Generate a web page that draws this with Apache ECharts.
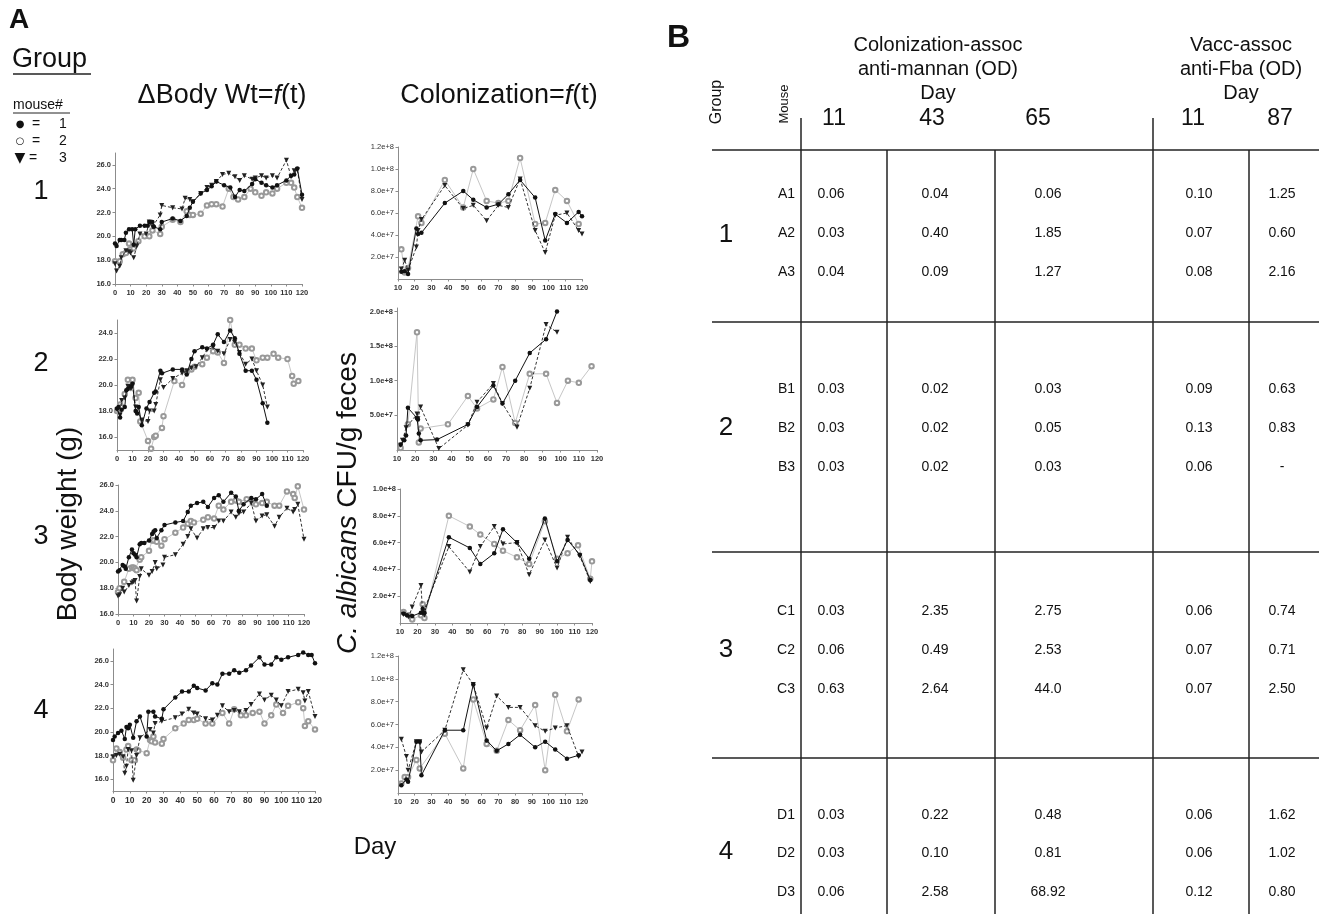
<!DOCTYPE html>
<html>
<head>
<meta charset="utf-8">
<title>Body weight and colonization</title>
<script src="https://cdn.jsdelivr.net/npm/echarts@6/dist/echarts.min.js"></script>
<style>
  html, body { margin: 0; padding: 0; background: #fff; }
  #main { width: 1319px; height: 914px; }
</style>
</head>
<body>
<div id="main"></div>
<script>
// body weight (g) per group, mouse 1..3, as [day, grams]
var bwG1M1 = [[0,19.4],[1,19.2],[3,19.7],[4,19.7],[6,19.7],[7,20.3],[9,20.6],[11,20.6],[12,19.3],[13,20.6],[16,20.9],[19,20.9],[21,20.9],[22,21.2],[24,21.2],[25,20.8],[29,20.6],[30,21.2],[37,21.5],[42,21.3],[46,21.7],[48,22.4],[50,22.9],[55,23.6],[59,23.9],[62,24.2],[65,24.6],[70,24.3],[74,24.1],[77,23.3],[80,23.9],[83,23.8],[88,24.4],[90,24.8],[94,24.5],[97,24.3],[101,24.1],[104,24.3],[110,24.7],[113,25.1],[115,25.2],[117,25.7],[120,23.5]]
var bwG1M2 = [[0,17.9],[3,17.9],[5,18.5],[7,18.6],[9,19.4],[10,18.9],[12,19.0],[13,19.3],[15,19.6],[19,20.0],[22,20.0],[24,20.5],[29,20.2],[30,20.8],[37,21.4],[42,21.2],[46,22.1],[48,21.8],[50,21.8],[55,21.9],[59,22.6],[62,22.7],[65,22.7],[69,22.5],[73,24.0],[76,23.3],[79,23.1],[83,23.3],[87,24.0],[90,23.7],[94,23.4],[97,23.7],[101,23.6],[104,24.0],[110,24.5],[113,24.5],[115,24.1],[117,23.3],[120,22.4]]
var bwG1M3 = [[0,17.7],[1,17.1],[3,17.5],[4,18.2],[7,18.8],[9,18.7],[10,18.6],[12,18.2],[14,19.2],[16,20.2],[20,20.2],[22,21.2],[24,20.8],[29,21.8],[30,22.6],[37,22.4],[43,22.3],[45,23.2],[48,23.1],[50,22.9],[55,23.6],[59,24.1],[62,24.3],[65,24.6],[69,25.2],[73,25.3],[77,25.0],[80,24.7],[83,25.1],[88,24.8],[90,24.9],[94,25.1],[97,24.9],[101,25.1],[104,24.9],[110,26.4],[113,25.0],[115,25.5],[117,25.6],[120,23.1]]

var bwG2M1 = [[0,18.2],[1,18.3],[2,17.5],[3,18.1],[5,18.3],[6,19.6],[7,19.7],[9,19.9],[10,20.1],[12,18.0],[13,17.8],[14,18.3],[16,16.9],[19,18.2],[21,18.7],[24,19.4],[25,19.5],[28,21.1],[29,20.9],[36,21.2],[42,21.2],[45,20.8],[48,22.0],[50,22.6],[55,22.9],[58,22.8],[62,23.1],[65,23.9],[69,23.3],[73,24.2],[76,23.6],[79,22.4],[83,21.1],[87,21.1],[90,20.4],[94,18.6],[97,17.1]]
var bwG2M2 = [[0,18.0],[2,18.5],[3,18.3],[5,19.3],[7,20.4],[10,20.4],[12,19.0],[14,19.4],[15,17.2],[20,15.7],[22,15.1],[24,16.0],[25,16.1],[29,16.7],[30,17.6],[37,20.3],[42,20.0],[45,21.0],[48,21.2],[50,21.4],[55,21.6],[58,22.1],[62,22.6],[65,22.5],[69,21.7],[73,25.0],[76,23.1],[79,23.1],[83,22.8],[87,22.8],[90,21.9],[94,22.1],[97,22.1],[101,22.4],[104,22.1],[110,22.0],[113,20.7],[114,20.1],[117,20.3]]
var bwG2M3 = [[0,18.1],[2,17.7],[3,18.8],[5,19.0],[7,19.9],[9,19.7],[10,20.0],[12,18.3],[16,17.3],[20,17.2],[21,18.0],[24,18.0],[25,18.5],[28,20.4],[30,19.8],[36,20.5],[42,20.9],[45,21.1],[48,21.3],[51,21.4],[55,22.1],[58,22.7],[62,22.9],[65,22.6],[69,22.4],[73,23.5],[76,23.3],[79,22.5],[83,21.6],[87,22.0],[90,21.1],[94,20.0],[97,18.3]]

var bwG3M1 = [[0,19.3],[1,19.4],[3,19.8],[4,19.7],[5,19.5],[7,20.4],[9,21.0],[10,20.7],[11,20.6],[12,20.4],[14,21.4],[15,21.5],[17,21.5],[20,21.7],[22,22.2],[23,22.4],[24,22.5],[25,21.9],[28,22.5],[30,22.9],[37,23.1],[42,23.2],[45,23.9],[47,24.4],[51,24.6],[55,24.7],[58,24.3],[62,25.0],[65,25.2],[68,24.7],[73,25.4],[76,25.1],[78,24.0],[81,24.5],[86,25.0],[89,24.9],[93,25.3],[96,24.4]]
var bwG3M2 = [[0,17.7],[1,18.0],[4,18.5],[7,19.5],[9,19.6],[10,19.6],[11,19.5],[12,19.4],[14,20.2],[15,20.4],[20,20.9],[22,21.7],[23,21.7],[25,21.6],[28,21.3],[30,21.8],[37,22.3],[42,22.7],[45,23.0],[47,23.2],[49,23.1],[55,23.3],[58,23.5],[62,23.4],[65,24.4],[68,24.1],[73,24.7],[76,24.8],[78,24.7],[83,24.9],[87,24.6],[89,24.5],[93,24.6],[96,24.7],[101,24.4],[104,24.4],[109,25.5],[113,25.3],[114,25.0],[116,25.9],[120,24.1]]
var bwG3M3 = [[0,17.4],[1,17.5],[3,18.0],[4,17.7],[7,18.2],[9,18.4],[10,18.5],[11,18.6],[12,17.0],[14,18.9],[15,19.5],[20,19.0],[22,19.3],[24,20.0],[25,19.5],[29,19.8],[30,20.4],[37,20.6],[42,21.4],[45,22.0],[47,22.6],[51,21.9],[55,22.6],[58,22.7],[62,22.7],[65,23.2],[68,23.2],[73,23.9],[76,23.5],[78,23.8],[81,23.9],[86,24.6],[89,23.2],[93,23.6],[96,23.7],[101,22.8],[104,23.5],[109,24.2],[113,23.9],[114,24.1],[116,24.5],[120,21.8]]

var bwG4M1 = [[0,19.3],[1,19.6],[3,19.9],[5,20.1],[7,19.4],[8,20.4],[9,20.3],[10,20.6],[12,19.5],[14,20.9],[16,21.3],[20,19.6],[21,21.7],[24,21.7],[25,21.3],[29,21.1],[30,21.9],[37,22.9],[41,23.4],[45,23.4],[48,23.9],[50,23.7],[55,23.5],[59,24.1],[62,24.0],[65,24.9],[69,24.9],[72,25.2],[75,25.0],[79,25.2],[82,25.6],[87,26.3],[90,25.7],[94,25.7],[97,26.3],[100,26.1],[104,26.3],[110,26.5],[113,26.7],[116,26.5],[118,26.5],[120,25.8]]
var bwG4M2 = [[0,17.6],[2,18.6],[4,18.3],[6,17.8],[8,18.5],[9,18.8],[11,17.6],[13,17.6],[14,18.5],[15,18.4],[20,18.2],[22,19.3],[23,19.2],[24,19.6],[25,19.1],[29,19.0],[30,19.4],[37,20.3],[42,20.7],[45,21.0],[48,21.0],[50,21.1],[55,20.7],[59,20.7],[65,21.6],[69,20.7],[72,21.9],[76,21.4],[79,21.4],[83,21.6],[87,21.7],[90,20.7],[94,21.4],[97,22.3],[101,21.6],[104,22.2],[110,22.5],[113,22.0],[114,20.5],[116,20.9],[120,20.2]]
var bwG4M3 = [[0,17.9],[2,18.0],[4,18.1],[6,17.9],[7,16.5],[8,17.1],[9,18.5],[11,18.4],[12,15.9],[14,18.0],[16,19.5],[22,20.2],[24,19.9],[25,20.7],[29,20.9],[37,21.2],[41,21.5],[45,21.9],[48,21.6],[50,21.5],[55,21.1],[59,21.0],[62,21.4],[65,22.2],[69,21.7],[72,21.8],[75,21.7],[79,21.8],[82,22.3],[87,23.2],[90,22.7],[94,23.1],[97,22.7],[100,22.2],[104,23.4],[110,23.6],[113,23.3],[114,22.6],[116,23.4],[120,21.3]]

// C. albicans CFU/g feces, in millions, as [day, value]
var cfuG1M1 = [[12,6.7],[14,7],[16,4.6],[21,46],[22,41],[24,42],[38,69],[49,80],[55,72],[63,65],[70,68],[76,77],[83,90],[92,74],[98,35],[104,59],[111,51],[118,61],[120,57]]
var cfuG1M2 = [[12,27],[14,6],[16,10],[22,57],[24,51],[38,90],[49,65],[55,100],[63,71],[70,69],[76,71],[83,110],[92,50],[98,51],[104,81],[111,71],[118,50]]
var cfuG1M3 = [[12,9],[14,17],[16,8],[21,29],[22,44],[24,54],[38,85],[49,64],[55,67],[63,53],[70,67],[76,65],[83,91],[92,44],[98,24],[104,58],[111,60],[118,44],[120,41]]

var cfuG2M1 = [[12,8],[14,14],[15,21],[16,61],[21,46],[21.5,44],[22,24],[23,14],[32,15],[49,37],[54,62],[63,93],[68,67],[75,100],[83,140],[92,160],[98,200]]
var cfuG2M2 = [[12,3],[16,37],[21,170],[22,11],[23,31],[38,37],[49,78],[54,60],[63,73],[68,120],[75,39],[83,110],[92,110],[98,68],[104,100],[110,97],[117,121]]
var cfuG2M3 = [[12,7],[13,14],[15,32],[21,52],[21.5,45],[23,62],[33,2],[49,36],[54,69],[63,96],[68,67],[76,33],[83,89],[92,181],[98,170]]

var cfuG3M1 = [[12,7],[14,5.7],[17,5.2],[22,7.7],[23,10.6],[24,7.7],[38,64],[50,56],[56,44],[64,52],[69,70],[77,60],[84,48],[93,78],[100,46],[106,62],[113,51],[119,32]]
var cfuG3M2 = [[12,8.2],[15,5.7],[17,2.7],[22,5.7],[23,14],[24,3.7],[38,80],[50,72],[56,66],[64,59],[69,54],[77,49],[84,44],[93,76],[100,48],[106,52],[112,58],[119,33],[120,46]]
var cfuG3M3 = [[12,6.4],[15,4.4],[17,12],[22,28],[23,7],[24,5.7],[38,57],[50,38],[56,57],[64,72],[69,59],[77,60],[84,36],[93,62],[100,41],[106,64],[113,50],[119,31]]

var cfuG4M1 = [[12,6.8],[15,11.8],[16,9.8],[21,45],[23,45],[24,15.6],[38,55],[49,55],[55,95],[63,46],[69,37],[76,43],[83,51],[92,40],[98,45],[104,38],[111,30],[118,33]]
var cfuG4M2 = [[12,8.3],[14,14],[16,14],[21,29],[23,21.5],[38,52],[49,21.5],[55,82],[63,43],[69,37],[76,64],[83,55],[92,77],[98,20],[104,86],[111,54],[118,82]]
var cfuG4M3 = [[12,47],[15,32],[16,20],[21,45],[23,45],[24,36],[38,55],[49,108],[55,95],[63,57],[69,85],[76,75],[83,75],[92,59],[98,54],[104,57],[111,59],[118,32],[120,36]]

// tick labels
var bwTicks = [16, 18, 20, 22, 24, 26]
var cfuTicks120 = [20, 40, 60, 80, 100, 120]
var cfuTicks200 = [50, 100, 150, 200]
var cfuTicks100 = [20, 40, 60, 80, 100]

// table B
var groupNames = ['1', '2', '3', '4']
var mouseIds = ['A1','A2','A3','B1','B2','B3','C1','C2','C3','D1','D2','D3']
var colDays = ['11', '43', '65', '11', '87']
var mannanD11 = ['0.06','0.03','0.04','0.03','0.03','0.03','0.03','0.06','0.63','0.03','0.03','0.06']
var mannanD43 = ['0.04','0.40','0.09','0.02','0.02','0.02','2.35','0.49','2.64','0.22','0.10','2.58']
var mannanD65 = ['0.06','1.85','1.27','0.03','0.05','0.03','2.75','2.53','44.0','0.48','0.81','68.92']
var fbaD11 = ['0.10','0.07','0.08','0.09','0.13','0.06','0.06','0.07','0.07','0.06','0.06','0.12']
var fbaD87 = ['1.25','0.60','2.16','0.63','0.83','-','0.74','0.71','2.50','1.62','1.02','0.80']

var FONT = '"Liberation Sans", Arial, "DejaVu Sans", sans-serif'
var myChart = echarts.init(document.getElementById('main'))

var panels = [
  { grid: { left: 115, top: 153, width: 187, height: 131 }, xMin: 0, yMin: 16, yMax: 27, ticks: bwTicks, bw: true, bold: true, data: [bwG1M1, bwG1M2, bwG1M3] },
  { grid: { left: 117, top: 320, width: 186, height: 130 }, xMin: 0, yMin: 15, yMax: 25, ticks: bwTicks, bw: true, bold: true, data: [bwG2M1, bwG2M2, bwG2M3] },
  { grid: { left: 118, top: 485, width: 186, height: 129 }, xMin: 0, yMin: 16, yMax: 26, ticks: bwTicks, bw: true, bold: true, data: [bwG3M1, bwG3M2, bwG3M3] },
  { grid: { left: 113, top: 649, width: 202, height: 142 }, xMin: 0, yMin: 15, yMax: 27, ticks: bwTicks, bw: true, bold: true, data: [bwG4M1, bwG4M2, bwG4M3] },
  { grid: { left: 398, top: 147, width: 184, height: 132 }, xMin: 10, yMin: 0, yMax: 120, ticks: cfuTicks120, bold: false, data: [cfuG1M1, cfuG1M2, cfuG1M3] },
  { grid: { left: 397, top: 308, width: 200, height: 142 }, xMin: 10, yMin: 0, yMax: 205, ticks: cfuTicks200, bold: true, data: [cfuG2M1, cfuG2M2, cfuG2M3] },
  { grid: { left: 400, top: 489, width: 192, height: 134 }, xMin: 10, yMin: 0, yMax: 100, ticks: cfuTicks100, bold: true, data: [cfuG3M1, cfuG3M2, cfuG3M3] },
  { grid: { left: 398, top: 656, width: 184, height: 137 }, xMin: 10, yMin: 0, yMax: 120, ticks: cfuTicks120, bold: false, data: [cfuG4M1, cfuG4M2, cfuG4M3] }
]

var axisGray = '#8c8c8c'
var grids = [], xAxes = [], yAxes = [], series = []

panels.forEach(function (p, i) {
  grids.push(Object.assign({ outerBoundsMode: 'none' }, p.grid))
  xAxes.push({
    gridIndex: i, type: 'value', min: p.xMin, max: 120, interval: 10,
    axisLine: { show: true, onZero: false, lineStyle: { color: axisGray, width: 1 } },
    axisTick: { show: true, length: 2.5, lineStyle: { color: axisGray } },
    axisLabel: { fontSize: i === 3 ? 8.5 : 7.5, fontWeight: 'bold', color: '#333', margin: 5, fontFamily: FONT },
    splitLine: { show: false }
  })
  yAxes.push({
    gridIndex: i, type: 'value', min: p.yMin, max: p.yMax,
    axisLine: { show: true, onZero: false, lineStyle: { color: axisGray, width: 1 } },
    axisTick: { show: true, length: 2.5, customValues: p.ticks, lineStyle: { color: axisGray } },
    axisLabel: {
      customValues: p.ticks, fontSize: 7.5, fontWeight: p.bold ? 'bold' : 'normal', color: '#333', margin: 4, fontFamily: FONT,
      formatter: p.bw ? function (v) { return v.toFixed(1) } : function (v) { return (v * 1e6).toExponential(1) }
    },
    splitLine: { show: false }
  })
  p.data.forEach(function (d, m) {
    var s = { type: 'line', xAxisIndex: i, yAxisIndex: i, data: d, clip: false, animation: false }
    if (m === 0) {
      Object.assign(s, { symbol: 'circle', symbolSize: 4.5, z: 4, itemStyle: { color: '#111' }, lineStyle: { color: '#111', width: 1 } })
    } else if (m === 1) {
      Object.assign(s, { symbol: 'emptyCircle', symbolSize: 4.5, z: 2, itemStyle: { color: '#999', borderWidth: 0.8 }, lineStyle: { color: '#c6c6c6', width: 1 } })
    } else {
      Object.assign(s, { symbol: 'triangle', symbolRotate: 180, symbolSize: 5, z: 3, itemStyle: { color: '#222' }, lineStyle: { color: '#333', width: 1, type: [3, 2] } })
    }
    series.push(s)
  })
})

function txt(x, y, s, size, extra) {
  return {
    type: 'text', x: x, y: y, silent: true,
    style: Object.assign({ text: s, fontSize: size, fontFamily: FONT, fill: '#111', textAlign: 'center', textVerticalAlign: 'middle' }, extra || {})
  }
}
function vtxt(x, y, s, size, extra) {
  var t = txt(x, y, s, size, extra)
  t.rotation = Math.PI / 2
  return t
}
function ln(x1, y1, x2, y2, w, c) {
  return { type: 'line', silent: true, shape: { x1: x1, y1: y1, x2: x2, y2: y2 }, style: { stroke: c || '#222', lineWidth: w || 1.5 } }
}
function richStyle(size) {
  return {
    n: { fontSize: size, fontFamily: FONT, fill: '#111' },
    i: { fontSize: size, fontFamily: FONT, fontStyle: 'italic', fill: '#111' }
  }
}

var graphics = []
// panel A
graphics.push(txt(9, 20, 'A', 28, { fontWeight: 'bold', textAlign: 'left' }))
graphics.push(txt(12, 60, 'Group', 27, { textAlign: 'left' }))
graphics.push(ln(13, 74, 91, 74, 1.3, '#222'))
graphics.push(txt(13, 105, 'mouse#', 14, { textAlign: 'left' }))
graphics.push(ln(13, 113, 70, 113, 1, '#222'))
var legendSym = ['\u25CF', '\u25CB', '\u25BC']
legendSym.forEach(function (sym, k) {
  var y = 124 + k * 17
  graphics.push(txt(20, y, sym, k === 2 ? 14 : 10, { fontFamily: '"DejaVu Sans", sans-serif' }))
  graphics.push(txt(k === 2 ? 33 : 36, y, '=', 14))
  graphics.push(txt(63, y, String(k + 1), 14))
})
graphics.push(txt(222, 96, '{n|\u0394Body Wt=}{i|f}{n|(t)}', 27, { rich: richStyle(27) }))
graphics.push(txt(499, 96, '{n|Colonization=}{i|f}{n|(t)}', 27, { rich: richStyle(27) }))
var groupLabelY = [192, 364, 537, 711]
groupNames.forEach(function (g, k) {
  graphics.push(txt(41, groupLabelY[k], g, 27))
})
graphics.push(vtxt(68, 524, 'Body weight (g)', 28))
graphics.push(vtxt(348, 503, '{i|C. albicans}{n| CFU/g feces}', 28, { rich: richStyle(28) }))
graphics.push(txt(375, 847, 'Day', 24))

// panel B
graphics.push(txt(667, 38, 'B', 32, { fontWeight: 'bold', textAlign: 'left' }))
graphics.push(txt(938, 45, 'Colonization-assoc', 20))
graphics.push(txt(938, 69, 'anti-mannan (OD)', 20))
graphics.push(txt(938, 93, 'Day', 20))
graphics.push(txt(1241, 45, 'Vacc-assoc', 20))
graphics.push(txt(1241, 69, 'anti-Fba (OD)', 20))
graphics.push(txt(1241, 93, 'Day', 20))
graphics.push(vtxt(717, 102, 'Group', 16))
graphics.push(vtxt(784, 104, 'Mouse', 13))
var dayX = [834, 932, 1038, 1193, 1280]
colDays.forEach(function (d, k) { graphics.push(txt(dayX[k], 119, d, 23)) })

graphics.push(ln(712, 150, 1319, 150))
graphics.push(ln(801, 118, 801, 150))
graphics.push(ln(1153, 118, 1153, 150))
;[801, 887, 995, 1153, 1249].forEach(function (x) { graphics.push(ln(x, 150, x, 914)) })
;[322, 552, 758].forEach(function (y) { graphics.push(ln(712, y, 1319, y)) })

var rowY = [194, 233, 272, 389, 428, 467, 611, 650, 689, 815, 853, 892]
var groupRowY = [235, 428, 650, 852]
groupNames.forEach(function (g, k) { graphics.push(txt(726, groupRowY[k], g, 26)) })
var cols = [mannanD11, mannanD43, mannanD65, fbaD11, fbaD87]
var colX = [831, 935, 1048, 1199, 1282]
mouseIds.forEach(function (id, r) {
  graphics.push(txt(795, rowY[r], id, 14, { textAlign: 'right' }))
  cols.forEach(function (col, c) {
    graphics.push(txt(colX[c], rowY[r], col[r], 14))
  })
})

var option = {
  animation: false,
  backgroundColor: '#fff',
  grid: grids,
  xAxis: xAxes,
  yAxis: yAxes,
  series: series,
  graphic: graphics
}
myChart.setOption(option)
</script>
</body>
</html>
